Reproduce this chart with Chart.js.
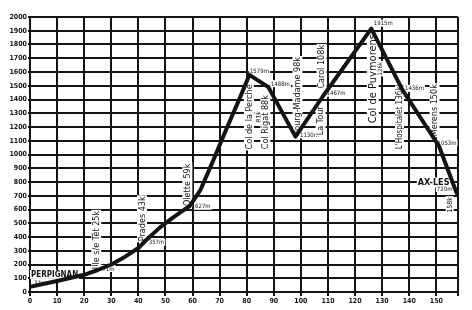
<!DOCTYPE html>
<html>
<head>
<meta charset="utf-8">
<script src="https://cdn.jsdelivr.net/npm/chart.js@4.4.1/dist/chart.umd.min.js"></script>
<style>
  html, body { margin: 0; background: #fff; }
  #wrap { width: 472px; height: 310px; }
</style>
</head>
<body>
<div id="wrap"><canvas id="profil"></canvas></div>
<script>
/* Profil en long : Perpignan -> Ax-les-Thermes */

// profil (km depuis Perpignan, altitude en m)
const kmStops   = [0, 10, 20, 25, 30, 35, 40, 43, 48, 53, 59, 63, 67.5, 72.5, 77, 81, 88, 98, 108, 126, 137.5, 151, 157.5];
const altitudes = [37, 80, 125, 160, 200, 255, 320, 380, 470, 545, 627, 745, 950, 1185, 1390, 1579, 1490, 1130, 1420, 1915, 1470, 1060, 720];

// stations
const stationNames = ['PERPIGNAN', 'Ille s/e Têt 25k', 'Prades 43k', 'Olette 59k', 'Col de la Perche', 'Col Rigat 88k',
                      'Bourg-Madame 98k', 'La Tour', 'Col de Puymorens', "L'Hospitalet 136k", 'Merens 150k', 'AX-LES'];
const stationKm    = [0, 25, 43, 59, 81, 88, 98, 108, 126, 137.5, 151, 157.5];
const altLabels    = ['37m', '171m', '357m', '627m', '1579m', '1488m', '1130m', '1467m', '1915m', '1436m', '1053m', '720m'];

// axes
const kmMax  = 158;
const altMax = 2000;

const INK = '#141414';
const NARROW = "'Liberation Sans Narrow', 'DejaVu Sans Condensed', 'Liberation Sans', sans-serif";

// [texte, station, dx, dy, vertical, taille, gras, align]
const etiquettes = [
  [stationNames[0], 0, 1, -12, false, 8, true, 'left'],
  [altLabels[0], 0, 4, -3, false, 6, false, 'left'],
  [stationNames[1], 1, -1, -30, true, 9, false],
  [altLabels[1], 1, 9, -1, false, 6, false],
  [stationNames[2], 2, -4, -21, true, 9, false],
  [altLabels[2], 2, 10, 3, false, 6, false],
  [stationNames[3], 3, -2, -21, true, 9, false],
  [altLabels[3], 3, 13, 1, false, 6, false],
  [stationNames[4], 4, 0, 42, true, 9, false],
  ['81k', 4, 9.5, 42, true, 7, false],
  [altLabels[4], 4, 10, -3, false, 6, false],
  [stationNames[5], 5, -2.5, 35, true, 9, false],
  [altLabels[5], 5, 12, -3, false, 6, false],
  [stationNames[6], 6, 2.5, -40, true, 9, false],
  [altLabels[6], 6, 14, -1, false, 6, false],
  [stationNames[7], 7, -1.5, 24, true, 9, false],
  ['Carol 108k', 7, -0.5, -30, true, 9, false],
  [altLabels[7], 7, 13.5, -3, false, 6, false],
  [stationNames[8], 8, 2, 50, true, 11, false],
  ['126k', 8, 9, 40, true, 6, false],
  [altLabels[8], 8, 12, -5, false, 6, false],
  [stationNames[9], 9, -2.5, 28, true, 8, false],
  [altLabels[9], 9, 12, -1, false, 6, false],
  [stationNames[10], 10, -4, -36, true, 9, false],
  [altLabels[10], 10, 8, -3, false, 6, false],
  [stationNames[11], 11, -23, -10, false, 9, true],
  [altLabels[11], 11, -12, -4, false, 6, false],
  ['158k', 11, -6.5, 12, true, 7, false],
];

// les textes masquent le quadrillage, le tracé reste par-dessus
const etiquettesPlugin = {
  id: 'etiquettes',
  beforeDatasetsDraw(chart) {
    const {ctx, scales: {x, y}} = chart;
    ctx.save();
    ctx.textBaseline = 'middle';
    etiquettes.forEach(([txt, st, dx, dy, vertical, size, bold, align]) => {
      const km = stationKm[st];
      const alt = altitudes[kmStops.indexOf(km)];
      const px = x.getPixelForValue(km) + dx;
      const py = y.getPixelForValue(alt) + dy;
      ctx.font = (bold ? 'bold ' : '') + size + 'px ' + NARROW;
      ctx.textAlign = align || 'center';
      const w = ctx.measureText(txt).width;
      const x0 = align === 'left' ? 0 : -w / 2;
      ctx.save();
      ctx.translate(px, py);
      if (vertical) ctx.rotate(-Math.PI / 2);
      ctx.fillStyle = '#fff';
      ctx.fillRect(x0 - 1, -size / 2 - 1, w + 2, size + 1);
      ctx.fillStyle = INK;
      ctx.fillText(txt, 0, 0);
      ctx.restore();
    });
    ctx.restore();
  }
};

const tickFont = { family: NARROW, size: 7, weight: 'bold' };

new Chart(document.getElementById('profil'), {
  type: 'line',
  data: {
    datasets: [{
      data: kmStops.map((k, i) => ({x: k, y: altitudes[i]})),
      borderColor: INK,
      borderWidth: 4,
      pointRadius: 0,
      tension: 0,
      borderJoinStyle: 'round',
      borderCapStyle: 'round',
    }]
  },
  options: {
    responsive: true,
    maintainAspectRatio: false,
    animation: false,
    layout: { padding: { top: 17, right: 14, left: 0, bottom: 0 } },
    plugins: { legend: { display: false }, tooltip: { enabled: false } },
    scales: {
      x: {
        type: 'linear', min: 0, max: kmMax,
        afterFit: s => { s.height = 18; },
        ticks: {
          stepSize: 10, autoSkip: false, maxRotation: 0, padding: 1,
          color: INK, font: tickFont,
          callback: v => (v % 10 === 0 ? String(v) : ''),
        },
        grid: { color: INK, lineWidth: 2, tickLength: 4 },
        border: { color: INK, width: 2 },
      },
      y: {
        min: 0, max: altMax,
        afterFit: s => { s.width = 30; },
        ticks: { stepSize: 100, autoSkip: false, padding: 1, color: INK, font: tickFont,
                 callback: v => String(v) },
        grid: { color: INK, lineWidth: 2, tickLength: 2 },
        border: { color: INK, width: 2 },
      }
    }
  },
  plugins: [etiquettesPlugin]
});
</script>
</body>
</html>
